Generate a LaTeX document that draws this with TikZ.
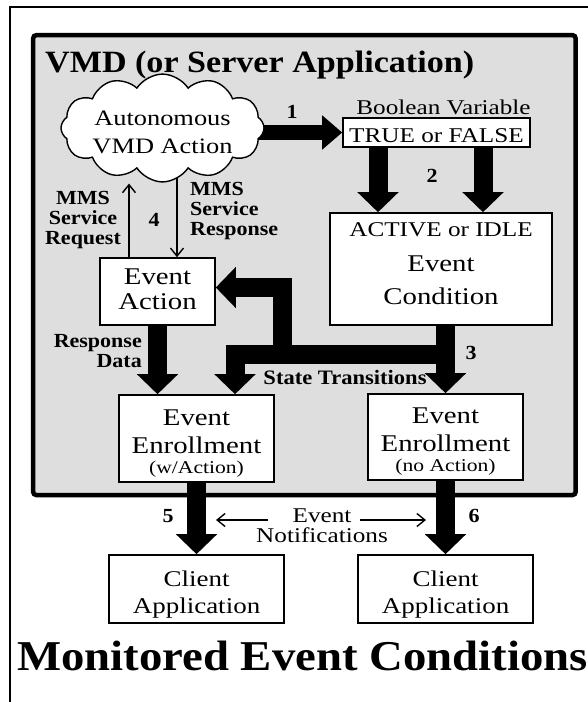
\documentclass[tikz,border=0pt]{standalone}
\usepackage{fontspec}
\setmainfont{Liberation Serif}[FakeStretch=1.2]
\newfontfamily\boldlabel{Liberation Serif}[FakeStretch=1.1]
\usetikzlibrary{arrows.meta,shapes.symbols}
\pgfdeclarelayer{panel}
\pgfdeclarelayer{flow}
\pgfsetlayers{panel,flow,main}
\definecolor{panelgray}{gray}{0.87}
\newcommand\upstrut[1]{\rule{0pt}{#1}}
\newcommand\dnstrut[1]{\rule[-#1]{0pt}{#1}}
\tikzset{
  box/.style={draw, line width=1.6pt, fill=white, inner sep=0pt, align=center},
  fat/.style={line width=19pt, -{Triangle[length=20pt,width=40pt]}},
  widearrow/.style={line width=15pt, -{Triangle[length=20pt,width=33pt]}},
  thinarrow/.style={line width=1.4pt, -{Straight Barb[length=8pt,width=13pt]}},
  lbl/.style={font=\boldlabel\bfseries\fontsize{20}{20}\selectfont, inner sep=0pt},
  plain/.style={font=\fontsize{21}{20}\selectfont, inner sep=0pt},
}
\begin{document}
\begin{tikzpicture}[x=1pt,y=-1pt]
\useasboundingbox (0,0) rectangle (587,702);

% outer frame, running off the page to the right and below
\draw[line width=2pt] (9.5,720) -- (9.5,7) -- (600,7);

% server panel
\begin{pgfonlayer}{panel}
  \draw[line width=4.5pt, fill=panelgray, rounded corners=3pt]
    (33.2,35.2) rectangle (575.6,495);
\end{pgfonlayer}

\node[anchor=base west, inner sep=0pt,
      font=\boldlabel\bfseries\fontsize{31}{31}\selectfont]
  (vmd) at (45,72.7) {VMD (or Server Application)};

% nodes
\node[cloud, cloud puffs=12, cloud puff arc=115, aspect=2.4, draw,
      line width=1.4pt, fill=white, minimum width=200pt, minimum height=82pt,
      inner sep=0pt, align=center, font=\fontsize{22}{28}\selectfont]
  (auto) at (162.5,128) {\upstrut{24pt}Autonomous\\VMD Action};

\node[plain, anchor=base] (bv) at (443.5,114) {Boolean Variable};
\node[box, font=\fontsize{21}{21}\selectfont, minimum width=187pt,
      minimum height=29pt] (tf) at (436.5,132.5) {\upstrut{21pt}TRUE or FALSE};

\node[box, minimum width=222pt, minimum height=112pt,
      font=\fontsize{24}{33}\selectfont] (ac) at (441,269)
  {{\fontsize{21}{21}\selectfont ACTIVE or IDLE}\\[2pt]Event\\Condition\dnstrut{10pt}};

\node[box, minimum width=115pt, minimum height=67pt,
      font=\fontsize{24}{25}\selectfont] (ea) at (157.5,291.5)
  {Event\\Action\dnstrut{4pt}};

\node[box, minimum width=155pt, minimum height=87pt,
      font=\fontsize{24}{28}\selectfont] (ew) at (196.5,438.5)
  {\upstrut{25pt}Event\\Enrollment\\[-8pt]{\fontsize{18}{18}\selectfont (w/Action)}};

\node[box, minimum width=155pt, minimum height=86pt,
      font=\fontsize{24}{28}\selectfont] (en) at (445.5,437)
  {\upstrut{25pt}Event\\Enrollment\\[-8pt]{\fontsize{18}{18}\selectfont (no Action)}};

\node[box, minimum width=175pt, minimum height=68pt,
      font=\fontsize{22.5}{27}\selectfont] (c1) at (196.5,589)
  {\upstrut{26pt}Client\\Application};
\node[box, minimum width=175pt, minimum height=68pt,
      font=\fontsize{22.5}{27}\selectfont] (c2) at (445.5,589)
  {\upstrut{26pt}Client\\Application};

% flow arrows, kept beneath the nodes
\coordinate (split) at (445.5,354);
\coordinate (rise) at (282,354);
\begin{pgfonlayer}{flow}
  \draw[widearrow] (auto.center |- tf.west) -- (tf.west);
  \draw[fat] ([xshift=-58.5pt]tf.south) -- ([xshift=-58.5pt]tf.south |- ac.north);
  \draw[fat] ([xshift=46.5pt]tf.south) -- ([xshift=46.5pt]tf.south |- ac.north);
  \draw[fat] (ac.south -| en.north) -- (en.north);
  \draw[fat] (split) -| ([xshift=38.5pt]ew.north);
  \draw[fat] (rise) |- ([yshift=4pt]ea.east);
  \draw[fat] (ea.south) -- (ea.south |- ew.north);
  \draw[fat] (ew.south -| c1.north) -- (c1.north);
  \draw[fat] (en.south) -- (c2.north);
  \draw[thinarrow] ([xshift=-28.5pt]ea.north) -- ([xshift=-28.5pt,yshift=-1pt]ea.north |- auto.south);
  \draw[thinarrow] ([xshift=19.5pt]ea.north |- auto.center) -- ([xshift=19.5pt]ea.north);
\end{pgfonlayer}

% step numbers
\node[lbl] (n1) at (292,112) {1};
\node[lbl] (n2) at (432,176) {2};
\node[lbl] (n3) at (471,353) {3};
\node[lbl] (n4) at (154,220) {4};
\node[lbl] (n5) at (168,516) {5};
\node[lbl] (n6) at (474,516) {6};

% flow labels
\node[lbl, align=center] (req) at (83,220) {MMS\\Service\\Request};
\node[lbl, align=left, anchor=west] (rsp) at (190,211) {MMS\\Service\\Response};
\node[lbl, align=right, anchor=east] (rd) at (142,351) {Response\\Data};
\node[lbl, font=\boldlabel\bfseries\fontsize{20.5}{20.5}\selectfont]
  (st) at (345,377.5) {State Transitions};

% event notifications
\node[plain, align=center] (nt) at (322,526) {Event\\Notifications};
\coordinate (nl) at (216,520);
\coordinate (nr) at (426,520);
\draw[thinarrow] ([xshift=12pt,yshift=6pt]nt.west) -- (nl);
\draw[thinarrow] ([xshift=-28pt,yshift=6pt]nt.east) -- (nr);

\node[anchor=base west, inner sep=0pt,
      font=\boldlabel\bfseries\fontsize{42.5}{42.5}\selectfont]
  (mec) at (17,670) {Monitored Event Conditions};
\end{tikzpicture}
\end{document}
